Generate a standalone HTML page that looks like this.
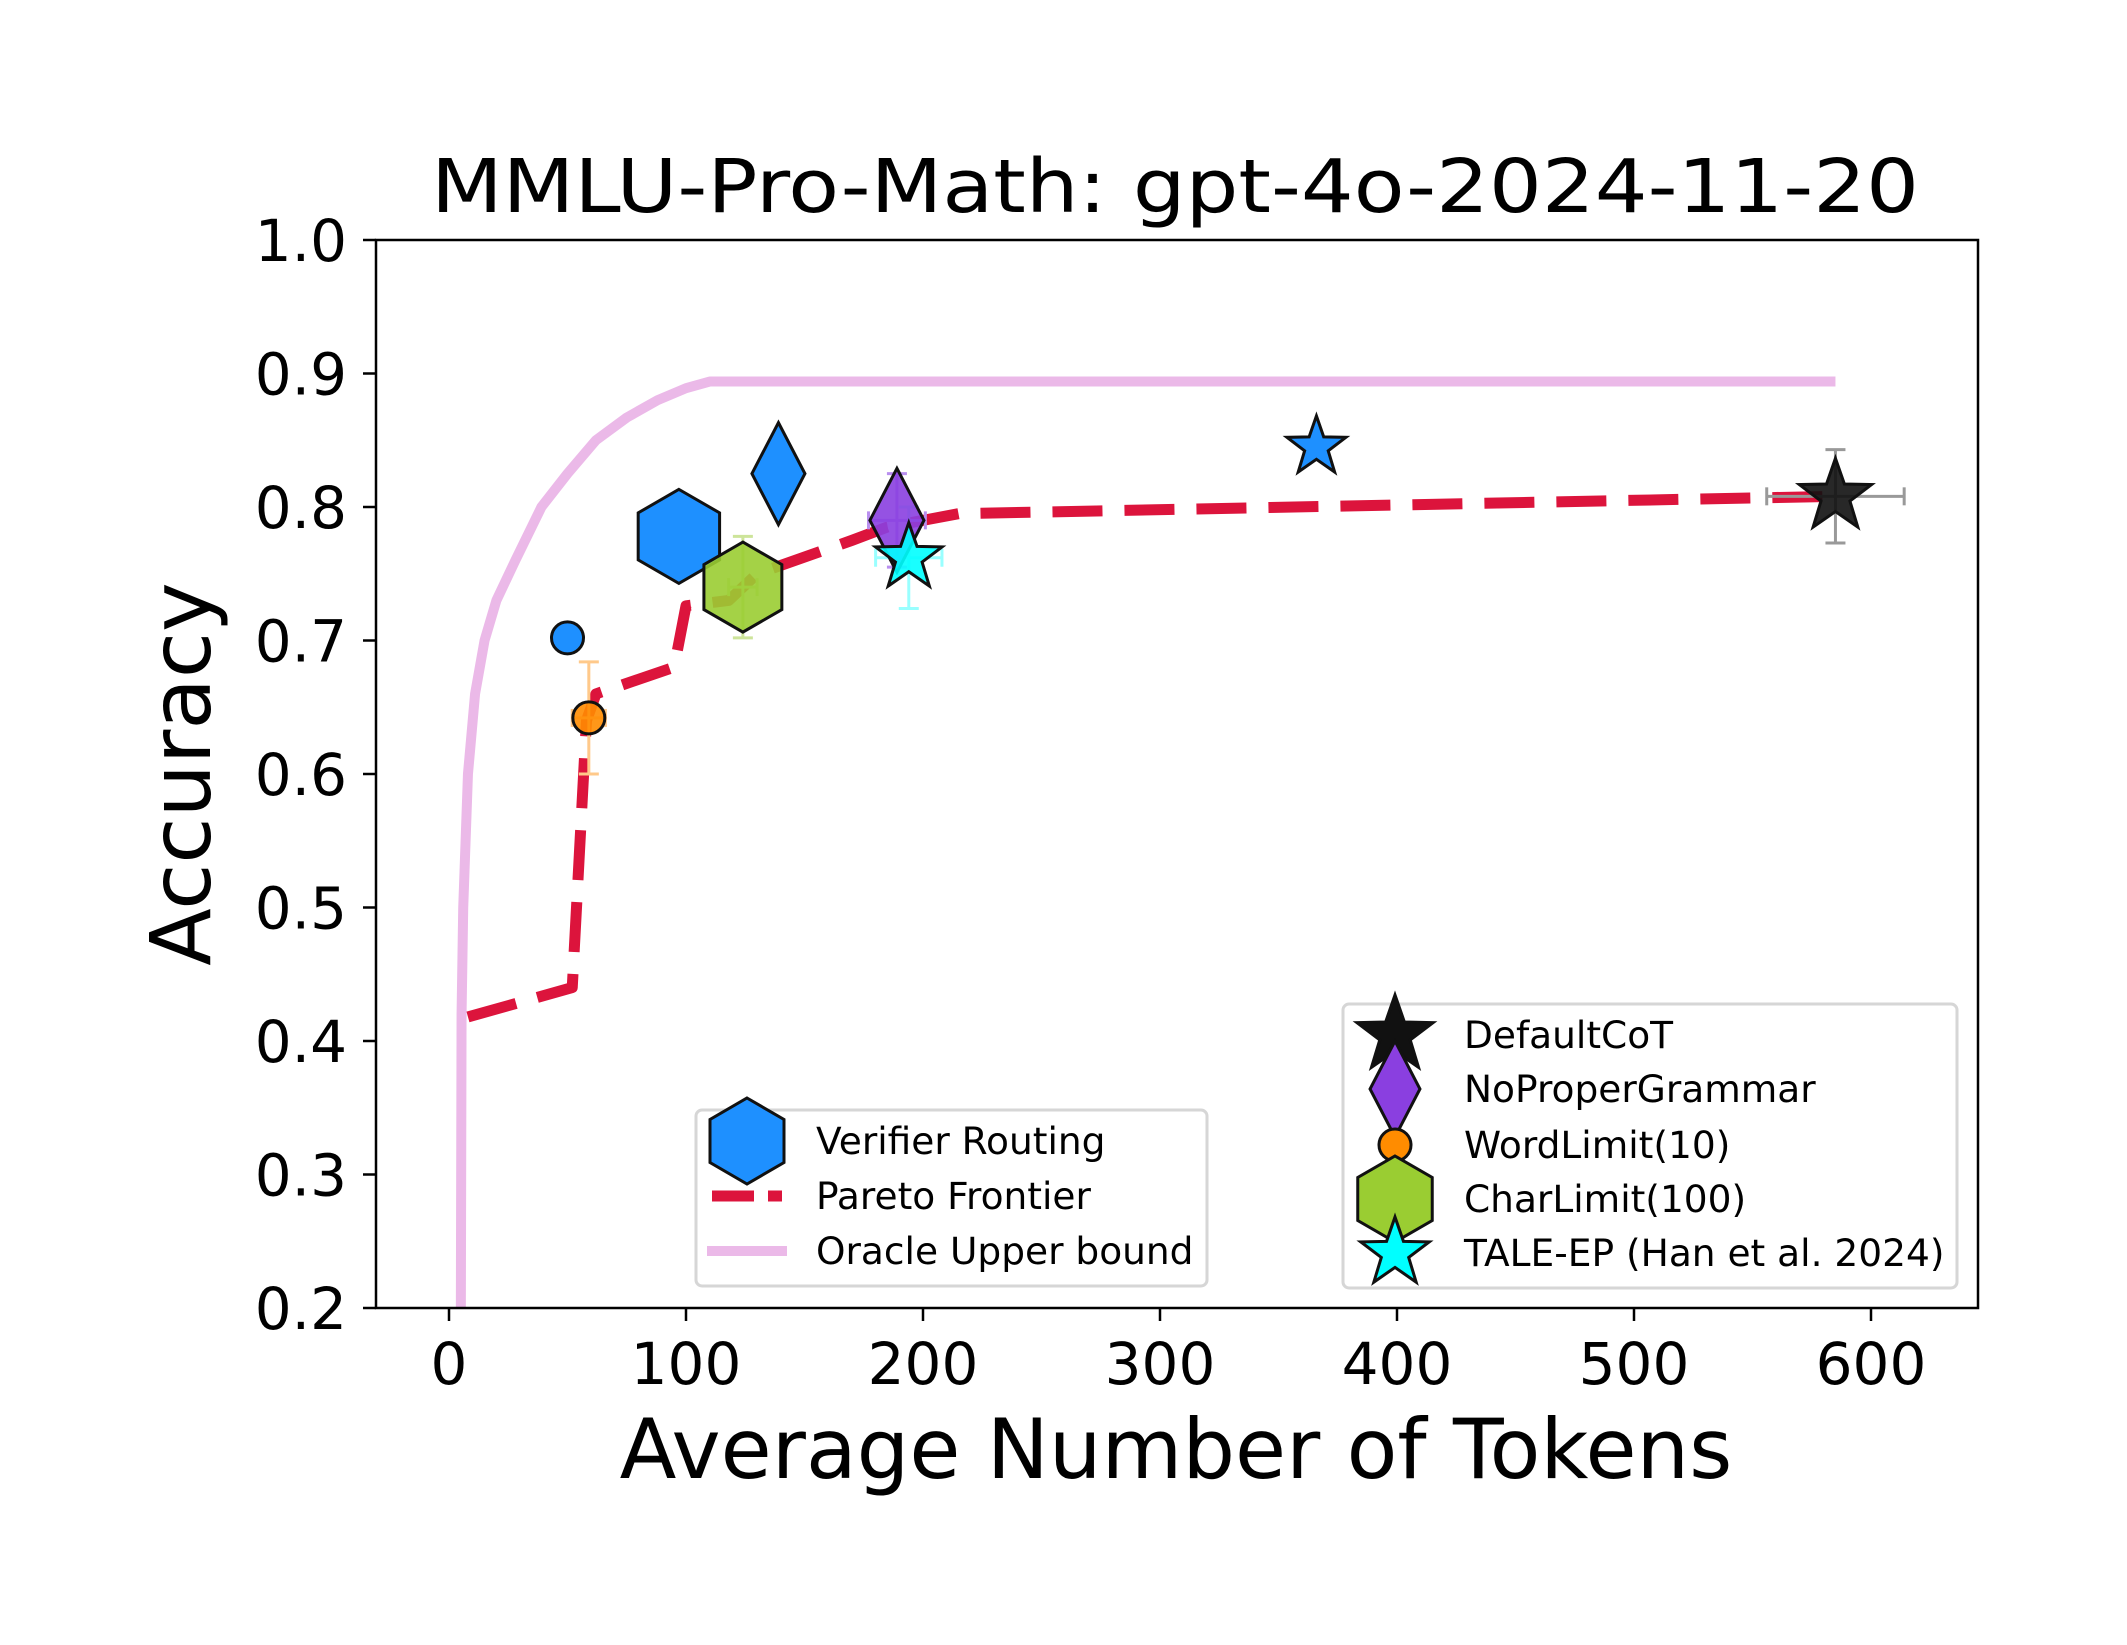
<!DOCTYPE html>
<html><head><meta charset="utf-8"><style>
html,body{margin:0;padding:0;background:#fff}
svg{display:block;font-family:"DejaVu Sans","Liberation Sans",sans-serif}
</style></head><body>
<svg id="chart" width="2127" height="1645" viewBox="0 0 2127 1645" xmlns="http://www.w3.org/2000/svg">
<rect width="2127" height="1645" fill="#fff"/>
<text x="1175" y="212" font-size="74" text-anchor="middle" textLength="1488" lengthAdjust="spacingAndGlyphs">MMLU-Pro-Math: gpt-4o-2024-11-20</text>
<g id="plot"></g>
<rect x="376" y="240" width="1602" height="1068" fill="none" stroke="#000" stroke-width="2.5"/>
<text x="1176" y="1478" font-size="83" text-anchor="middle">Average Number of Tokens</text>
<text transform="translate(210,774) rotate(-90)" font-size="84" text-anchor="middle">Accuracy</text>
<g id="ticks"></g>
<g id="legend1">
<rect x="696" y="1110" width="511" height="176" rx="6" fill="#fff" stroke="#d6d6d6" stroke-width="3"/>
<polygon points="747,1098 784,1119.5 784,1162.5 747,1184 710,1162.5 710,1119.5" fill="#1e90ff" stroke="#111" stroke-width="3"/>
<text x="816" y="1154" font-size="37.5">Verifier Routing</text>
<line x1="712" y1="1196" x2="782" y2="1196" stroke="#dc143c" stroke-width="11" stroke-dasharray="42,14"/>
<text x="816" y="1209" font-size="37.5">Pareto Frontier</text>
<line x1="707" y1="1251" x2="787" y2="1251" stroke="#ebb9e8" stroke-width="10"/>
<text x="816" y="1264" font-size="37.5">Oracle Upper bound</text>
</g>
<g id="legend2">
<rect x="1343" y="1004" width="614" height="284" rx="6" fill="#fff" stroke="#d6d6d6" stroke-width="3"/>
</g>
</svg>
<script>
// ---- data ----
const oracleX = [5,5.3,6,8,11,15,20,28,39,50,62,75,88,100,110,585];
const oracleY = [0.2,0.42,0.5,0.6,0.66,0.7,0.73,0.76,0.8,0.825,0.85,0.867,0.88,0.889,0.894,0.894];
const paretoX = [8,52,58,62,95,100,118,130,170,185,200,215,585];
const paretoY = [0.418,0.44,0.64,0.66,0.68,0.726,0.73,0.75,0.775,0.785,0.79,0.795,0.808];
const routingNames = ["routing-circle","routing-hexagon","routing-diamond","routing-star"];
const routingX = [50,97,139,366];
const routingY = [0.702,0.778,0.825,0.845];
const baseNames = ["DefaultCoT","NoProperGrammar","WordLimit(10)","CharLimit(100)","TALE-EP (Han et al. 2024)"];
const baseX = [585,189,59,124,194];
const baseY = [0.808,0.79,0.642,0.74,0.762];
const baseXErr = [29,12,7,6,14];
const baseYErr = [0.035,0.035,0.042,0.038,0.038];
const xTicks = [0,100,200,300,400,500,600];
const yTicks = [0.2,0.3,0.4,0.5,0.6,0.7,0.8,0.9,1.0];
const yTickLabels = ["0.2","0.3","0.4","0.5","0.6","0.7","0.8","0.9","1.0"];

const NS="http://www.w3.org/2000/svg";
const X = v => 449 + v*2.37;
const Y = v => 1308 - (v-0.2)*1335;
function mk(tag, attrs, parent){const e=document.createElementNS(NS,tag);for(const k in attrs)e.setAttribute(k,attrs[k]);parent.appendChild(e);return e;}
const plot=document.getElementById('plot'), ticks=document.getElementById('ticks');

xTicks.forEach(t=>{
  const l=mk('line',{x1:X(t),x2:X(t),y1:1308,y2:1321,stroke:'#000','stroke-width':2.5},ticks);
  
  
  const tx=mk('text',{x:X(t),y:1384,'font-size':58,'text-anchor':'middle'},ticks);tx.textContent=t;
  
  
});
yTicks.forEach((t,i)=>{
  const l=mk('line',{x1:363,x2:376,y1:Y(t),y2:Y(t),stroke:'#000','stroke-width':2.5},ticks);
  
  
  const tx=mk('text',{x:347,y:Y(t)+21,'font-size':58,'text-anchor':'end'},ticks);tx.textContent=yTickLabels[i];
  
  
});

const o=mk('polyline',{points:oracleX.map((x,i)=>X(x)+','+Y(oracleY[i])).join(' '),fill:'none',stroke:'#ebb9e8','stroke-width':10,'stroke-linejoin':'round'},plot);


const p=mk('polyline',{points:paretoX.map((x,i)=>X(x)+','+Y(paretoY[i])).join(' '),fill:'none',stroke:'#dc143c','stroke-width':11,'stroke-dasharray':'50,22','stroke-linejoin':'round'},plot);



function star(cx,cy,r){let pts=[];for(let i=0;i<10;i++){const rr=i%2?r*0.4:r;const a=-Math.PI/2+i*Math.PI/5;pts.push((cx+rr*Math.cos(a))+','+(cy+rr*Math.sin(a)));}return pts.join(' ');}
function hex(cx,cy,r){let pts=[];for(let i=0;i<6;i++){const a=-Math.PI/2+i*Math.PI/3;pts.push((cx+r*Math.cos(a))+','+(cy+r*Math.sin(a)));}return pts.join(' ');}
function diamond(cx,cy,w,h){return `${cx},${cy-h} ${cx+w},${cy} ${cx},${cy+h} ${cx-w},${cy}`;}
function marker(kind,cx,cy,size,fill,parent,alpha){
  let e;
  const st={fill:fill,stroke:'#111','stroke-width':3,'fill-opacity':alpha||1};
  if(kind==='circle') e=mk('circle',Object.assign({cx:cx,cy:cy,r:size},st),parent);
  else if(kind==='hex') e=mk('polygon',Object.assign({points:hex(cx,cy,size)},st),parent);
  else if(kind==='diamond') e=mk('polygon',Object.assign({points:diamond(cx,cy,size*0.52,size)},st),parent);
  else e=mk('polygon',Object.assign({points:star(cx,cy,size)},st),parent);
  return e;
}

const rKinds=['circle','hex','diamond','star'], rSizes=[16,47,51,31];
routingX.forEach((x,i)=>{
  const e=marker(rKinds[i],X(x),Y(routingY[i]),rSizes[i],'#1e90ff',plot);
  
  
});

const bKinds=['star','diamond','circle','hex','star'], bSizes=[38,52,16,45,35];
const bColors=['#111','#8a3fe0','#ff8c00','#9acd32','#00ffff'];
const errColors=['#999','#b98fef','#ffc98a','#cde49a','#99ffff'];
baseX.forEach((x,i)=>{
  const g=mk('g',{},plot);
  
  
  const cx=X(x), cy=Y(baseY[i]), x0=X(x-baseXErr[i]), x1=X(x+baseXErr[i]), y0=Y(baseY[i]-baseYErr[i]), y1=Y(baseY[i]+baseYErr[i]);
  const c=errColors[i], sw=3;
  mk('line',{x1:x0,x2:x1,y1:cy,y2:cy,stroke:c,'stroke-width':sw},g);
  mk('line',{x1:cx,x2:cx,y1:y0,y2:y1,stroke:c,'stroke-width':sw},g);
  mk('line',{x1:x0,x2:x0,y1:cy-9,y2:cy+9,stroke:c,'stroke-width':sw},g);
  mk('line',{x1:x1,x2:x1,y1:cy-9,y2:cy+9,stroke:c,'stroke-width':sw},g);
  mk('line',{x1:cx-10,x2:cx+10,y1:y0,y2:y0,stroke:c,'stroke-width':sw},g);
  mk('line',{x1:cx-10,x2:cx+10,y1:y1,y2:y1,stroke:c,'stroke-width':sw},g);
});
baseX.forEach((x,i)=>{
  const e=marker(bKinds[i],X(x),Y(baseY[i]),bSizes[i],bColors[i],plot,0.9);
  
  
});

const lg=document.getElementById('legend2');
const lY=[1035,1089,1145,1199,1253], lS=[40,48,16,43,36];
baseNames.forEach((n,i)=>{
  const m=marker(bKinds[i],1395,lY[i],lS[i],bColors[i],lg);
  
  
  const t=mk('text',{x:1464,y:lY[i]+13,'font-size':37.5},lg);t.textContent=n;
  
  
});
</script>
</body></html>
